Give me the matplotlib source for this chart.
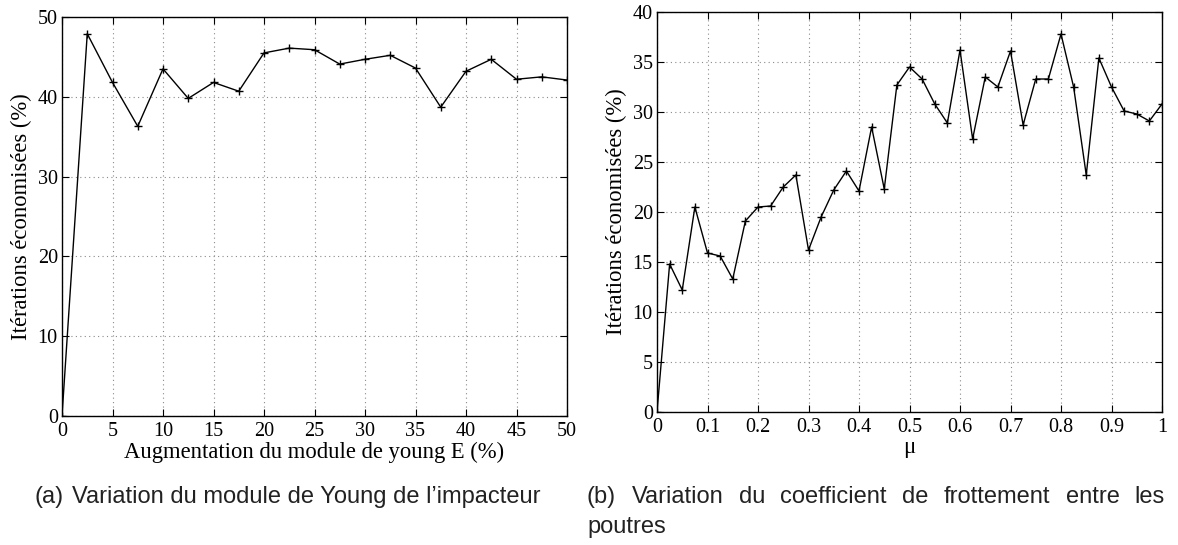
import matplotlib
matplotlib.use("Agg")
import matplotlib.pyplot as plt

# ── Data ──────────────────────────────────────────────────────────────────────
young_x = [0, 2.5, 5, 7.5, 10, 12.5, 15, 17.5, 20, 22.5, 25, 27.5, 30, 32.5,
           35, 37.5, 40, 42.5, 45, 47.5, 50]
young_y = [0, 47.9, 41.8, 36.3, 43.5, 39.8, 41.8, 40.7, 45.5, 46.1, 45.9, 44.1,
           44.7, 45.2, 43.6, 38.7, 43.2, 44.7, 42.2, 42.5, 42.1]

mu_x = [0, 0.025, 0.05, 0.075, 0.1, 0.125, 0.15, 0.175, 0.2, 0.225, 0.25, 0.275,
        0.3, 0.325, 0.35, 0.375, 0.4, 0.425, 0.45, 0.475, 0.5, 0.525, 0.55,
        0.575, 0.6, 0.625, 0.65, 0.675, 0.7, 0.725, 0.75, 0.775, 0.8, 0.825,
        0.85, 0.875, 0.9, 0.925, 0.95, 0.975, 1.0]
mu_y = [0, 14.8, 12.2, 20.5, 15.9, 15.6, 13.3, 19.1, 20.5, 20.6, 22.5, 23.7,
        16.2, 19.5, 22.2, 24.1, 22.1, 28.5, 22.3, 32.7, 34.5, 33.3, 30.8,
        28.9, 36.2, 27.3, 33.5, 32.5, 36.1, 28.7, 33.3, 33.3, 37.8, 32.5,
        23.7, 35.4, 32.5, 30.1, 29.8, 29.1, 30.8]

young_xticks = [0, 5, 10, 15, 20, 25, 30, 35, 40, 45, 50]
young_yticks = [0, 10, 20, 30, 40, 50]
mu_xticks = [0, 0.1, 0.2, 0.3, 0.4, 0.5, 0.6, 0.7, 0.8, 0.9, 1]
mu_xticklabels = ["0", "0.1", "0.2", "0.3", "0.4", "0.5", "0.6", "0.7", "0.8", "0.9", "1"]
mu_yticks = [0, 5, 10, 15, 20, 25, 30, 35, 40]

ylabel = "Itérations économisées (%)"
xlabel_a = "Augmentation du module de young E (%)"
xlabel_b = "μ"
caption_a = ["(a)", "Variation du module de Young de l’impacteur"]
caption_b_line1 = ["(b)", "Variation", "du", "coefficient", "de", "frottement", "entre", "les"]
caption_b_line2 = "poutres"

SERIF = ["Liberation Serif", "DejaVu Serif"]
SANS = ["Liberation Sans", "DejaVu Sans"]
TICK_FS = 14.5
LABEL_FS = 16.3
CAP_FS = 17
CAP_COLOR = "#222222"

W, H = 1178, 545
fig = plt.figure(figsize=(W / 100, H / 100), dpi=100)


def px_axes(x0, y0, x1, y1):
    return fig.add_axes([x0 / W, 1 - y1 / H, (x1 - x0) / W, (y1 - y0) / H])


def style(ax):
    ax.grid(True, color="#8a8a8a", linestyle=(0, (1, 3)), linewidth=0.8)
    ax.tick_params(direction="in", top=True, right=True, length=5, width=0.8,
                   labelsize=TICK_FS)
    ax.tick_params(axis="x", pad=4)
    ax.tick_params(axis="y", pad=3)
    for lab in ax.get_xticklabels() + ax.get_yticklabels():
        lab.set_family(SERIF)
    for s in ax.spines.values():
        s.set_linewidth(1.0)


ax1 = px_axes(62, 17, 567, 416)
ax1.plot(young_x, young_y, "-", color="black", linewidth=1.0,
         marker="+", markersize=6, markeredgewidth=1.0)
ax1.set_xlim(0, 50)
ax1.set_ylim(0, 50)
ax1.set_xticks(young_xticks)
ax1.set_yticks(young_yticks)
style(ax1)
ax1.set_ylabel(ylabel, family=SERIF, fontsize=LABEL_FS, labelpad=4)
ax1.set_xlabel(xlabel_a, family=SERIF, fontsize=LABEL_FS, labelpad=1)

ax2 = px_axes(657, 12, 1162, 412)
ax2.plot(mu_x, mu_y, "-", color="black", linewidth=1.0,
         marker="+", markersize=6, markeredgewidth=1.0)
ax2.set_xlim(0, 1)
ax2.set_ylim(0, 40)
ax2.set_xticks(mu_xticks)
ax2.set_xticklabels(mu_xticklabels)
ax2.set_yticks(mu_yticks)
style(ax2)
ax2.set_ylabel(ylabel, family=SERIF, fontsize=LABEL_FS, labelpad=4)
ax2.set_xlabel(xlabel_b, family=SERIF, fontsize=LABEL_FS, labelpad=0)

# ── Captions ──────────────────────────────────────────────────────────────────
renderer = fig.canvas.get_renderer()
y_cap = 497

ta = fig.text(34 / W, 1 - y_cap / H, caption_a[0], family=SANS, fontsize=CAP_FS,
              color=CAP_COLOR, ha="left", va="center")
wa = ta.get_window_extent(renderer).width
fig.text((34 + wa + 9) / W, 1 - y_cap / H, caption_a[1], family=SANS,
         fontsize=CAP_FS, color=CAP_COLOR, ha="left", va="center")

# justified first line of caption (b)
x_left, x_right = 587, 1165
texts = [fig.text(0, 1 - y_cap / H, w, family=SANS, fontsize=CAP_FS,
                  color=CAP_COLOR, ha="left", va="center") for w in caption_b_line1]
widths = [t.get_window_extent(renderer).width for t in texts]
gap = (x_right - x_left - sum(widths)) / (len(texts) - 1)
x = x_left
for t, w in zip(texts, widths):
    t.set_x(x / W)
    x += w + gap
fig.text(x_left / W, 1 - 527 / H, caption_b_line2, family=SANS, fontsize=CAP_FS,
         color=CAP_COLOR, ha="left", va="center")

fig.savefig("out.png", dpi=100)
